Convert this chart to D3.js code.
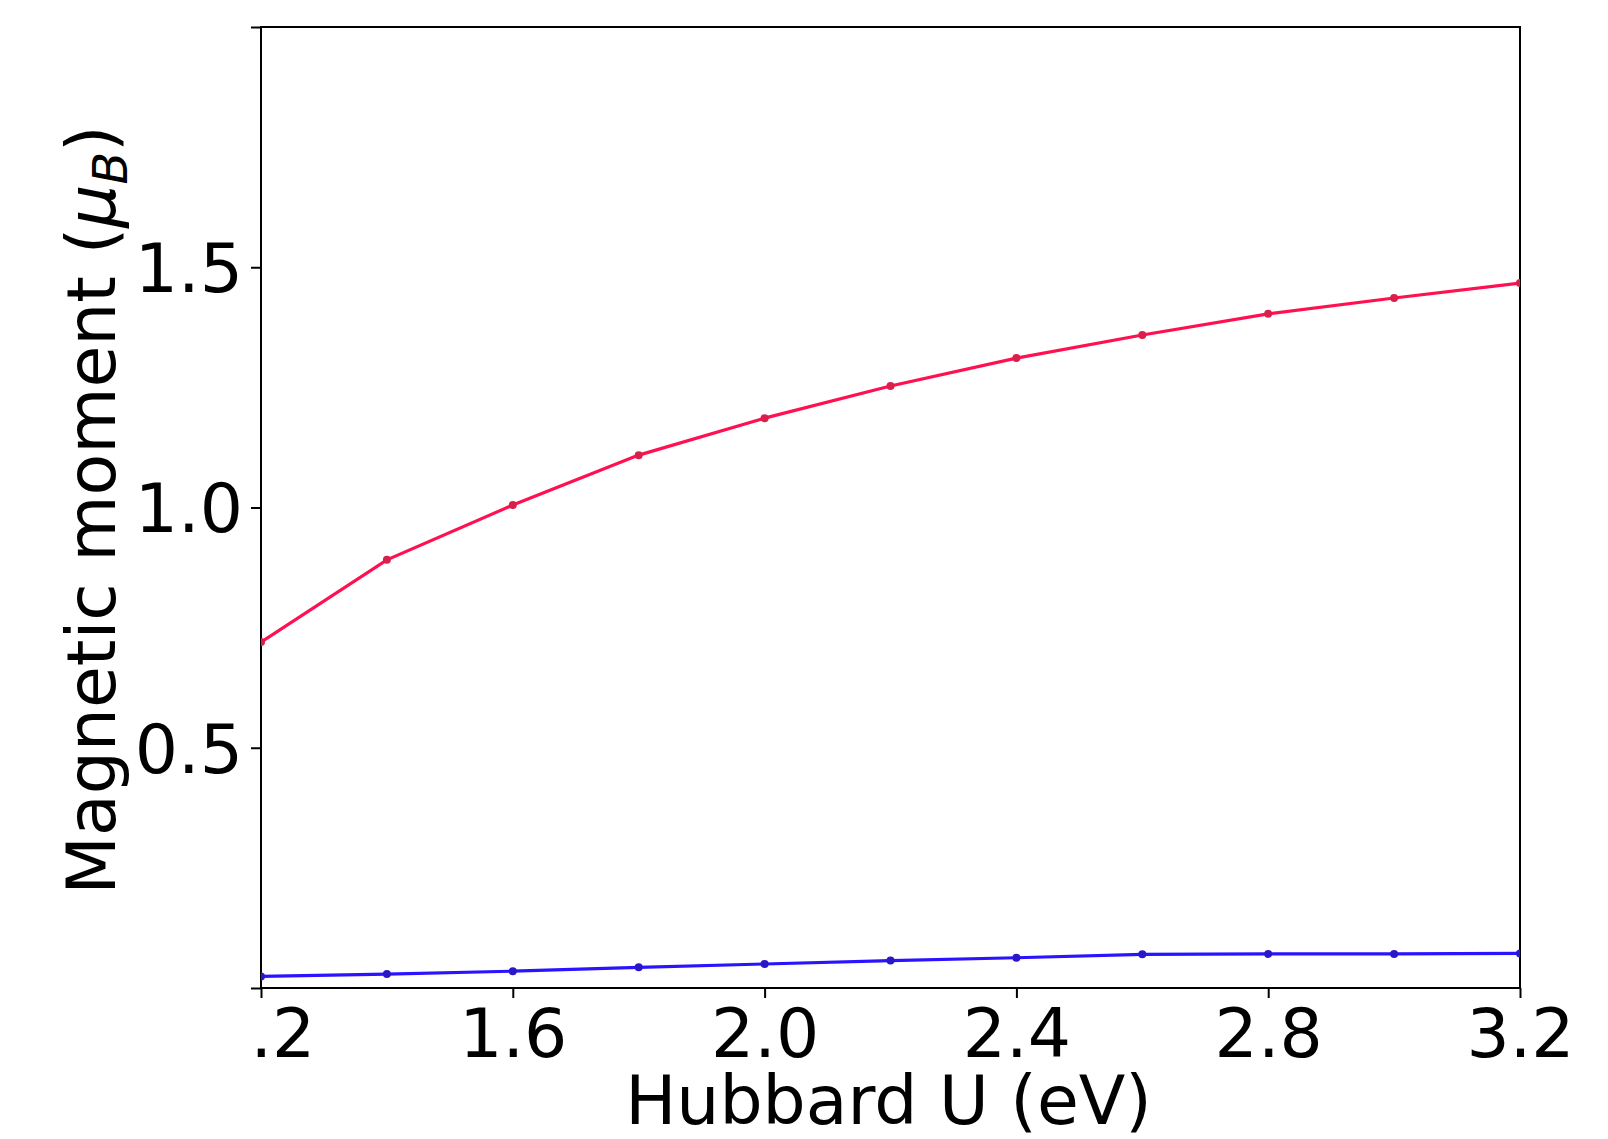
<!DOCTYPE html>
<html>
<head>
<meta charset="utf-8">
<script src="https://cdn.jsdelivr.net/npm/d3@7"></script>
<style>
  html, body { margin: 0; padding: 0; background: #fff; }
  svg { display: block; }
  text { font-family: "DejaVu Sans", sans-serif; fill: #000; }
</style>
</head>
<body>
<svg id="chart" width="1608" height="1139"></svg>
<script>
// ---- data ----
const hubbardU = [1.2, 1.4, 1.6, 1.8, 2.0, 2.2, 2.4, 2.6, 2.8, 3.0, 3.2];
const momentRed = [0.720, 0.891, 1.005, 1.109, 1.186, 1.253, 1.311, 1.359, 1.403, 1.436, 1.467];
const momentBlue = [0.024, 0.029, 0.035, 0.043, 0.050, 0.057, 0.063, 0.070, 0.071, 0.071, 0.072];
const xTicks = [1.2, 1.6, 2.0, 2.4, 2.8, 3.2];
const xTickLabels = [".2", "1.6", "2.0", "2.4", "2.8", "3.2"];
const yTicks = [0, 0.5, 1.0, 1.5, 2.0];
const yTickLabels = ["", "0.5", "1.0", "1.5", ""];
const xTitle = "Hubbard U (eV)";
const yTitle = "Magnetic moment (";

// ---- layout ----
const svg = d3.select("#chart");
const L = 261, R = 1520, T = 27, B = 988;
const x = d3.scaleLinear().domain([1.2, 3.2]).range([L, R]);
const y = d3.scaleLinear().domain([0, 2.0]).range([B, T]);
const fs = 68;

// x axis
const xAxis = svg.append("g").attr("transform", `translate(0,${B})`)
  .call(d3.axisBottom(x).tickValues(xTicks)
    .tickFormat((d, i) => xTickLabels[i]).tickSize(10).tickPadding(8).tickSizeOuter(0));
xAxis.select(".domain").remove();
xAxis.selectAll(".tick line").attr("stroke", "#000").attr("stroke-width", 2);
xAxis.selectAll(".tick text").attr("font-size", fs).attr("dy", null)
  .attr("y", 69).attr("font-family", "DejaVu Sans");
xAxis.selectAll(".tick text").filter((d, i) => i === 0)
  .attr("text-anchor", "start").attr("x", -11);

// y axis
const yAxis = svg.append("g").attr("transform", `translate(${L},0)`)
  .call(d3.axisLeft(y).tickValues(yTicks)
    .tickFormat((d, i) => yTickLabels[i]).tickSize(10).tickPadding(8).tickSizeOuter(0));
yAxis.select(".domain").remove();
yAxis.selectAll(".tick line").attr("stroke", "#000").attr("stroke-width", 2);
yAxis.selectAll(".tick text").attr("font-size", fs).attr("dy", "0.36em")
  .attr("x", -18).attr("font-family", "DejaVu Sans");

// frame
svg.append("rect").attr("x", L).attr("y", T).attr("width", R - L).attr("height", B - T)
  .attr("fill", "none").attr("stroke", "#000").attr("stroke-width", 2);

// clip
svg.append("clipPath").attr("id", "plotclip").append("rect")
  .attr("x", L).attr("y", T).attr("width", R - L).attr("height", B - T);

const line = d3.line().x(d => x(d[0])).y(d => y(d[1]));
const series = [
  { vals: momentRed, stroke: "#ff1050", marker: "#d8204a" },
  { vals: momentBlue, stroke: "#2a14ff", marker: "#2a18c8" }
];
const plot = svg.append("g").attr("clip-path", "url(#plotclip)");
series.forEach(s => {
  const pts = hubbardU.map((u, i) => [u, s.vals[i]]);
  plot.append("path").datum(pts).attr("d", line)
    .attr("fill", "none").attr("stroke", s.stroke).attr("stroke-width", 3.2);
  plot.selectAll(null).data(pts).enter().append("circle")
    .attr("cx", d => x(d[0])).attr("cy", d => y(d[1])).attr("r", 4)
    .attr("fill", s.marker);
});

// axis titles
svg.append("text").attr("x", (L + R) / 2 - 2).attr("y", 1124)
  .attr("text-anchor", "middle").attr("font-size", fs).text(xTitle);

const yt = svg.append("text").attr("transform", "translate(115,510) rotate(-90)")
  .attr("text-anchor", "middle").attr("font-size", fs);
yt.append("tspan").text(yTitle);
yt.append("tspan").attr("font-style", "italic").text("μ");
yt.append("tspan").attr("font-style", "italic").attr("font-size", fs * 0.7)
  .attr("dy", 12).text("B");
yt.append("tspan").attr("dy", -12).text(")");
</script>
</body>
</html>
